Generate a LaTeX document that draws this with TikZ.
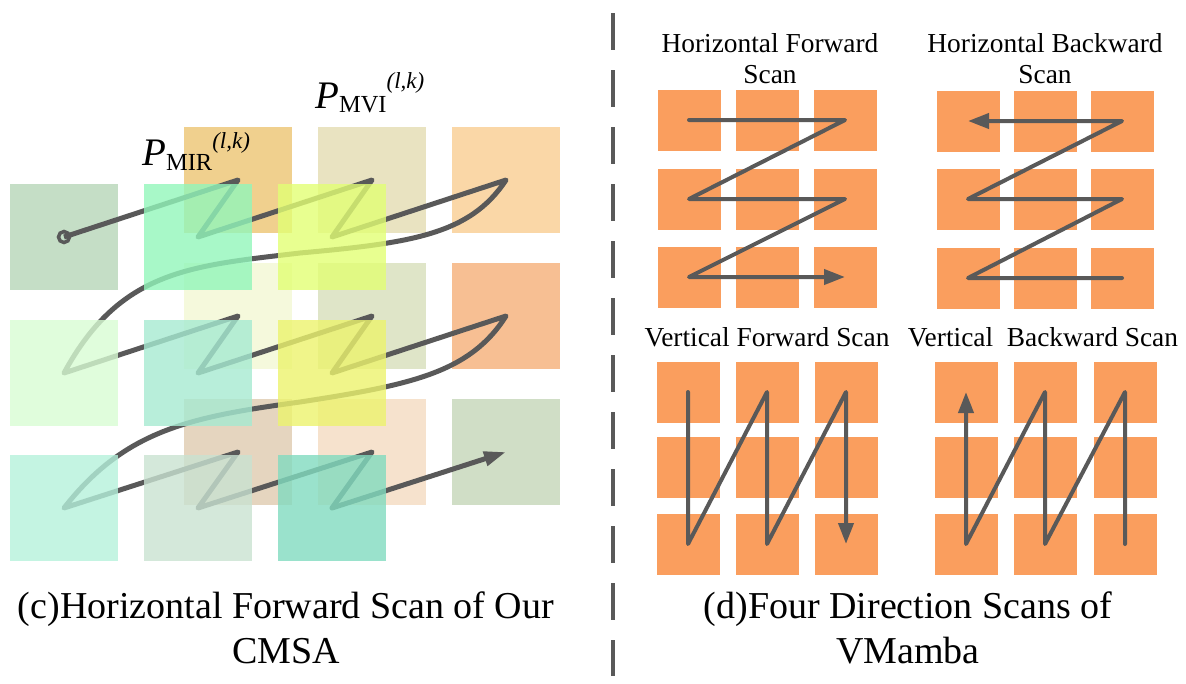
\documentclass[tikz,border=0pt]{standalone}
\usepackage{fontspec}
\setmainfont{Liberation Serif}
\usetikzlibrary{arrows.meta}

\definecolor{scanline}{RGB}{89,89,89}
\definecolor{cellorange}{RGB}{250,158,94}
% MVI cells (back)
\definecolor{mviA}{RGB}{240,208,142}
\definecolor{mviB}{RGB}{233,227,193}
\definecolor{mviC}{RGB}{250,215,167}
\definecolor{mviD}{RGB}{245,249,220}
\definecolor{mviE}{RGB}{223,229,200}
\definecolor{mviF}{RGB}{247,191,147}
\definecolor{mviG}{RGB}{229,213,191}
\definecolor{mviH}{RGB}{246,226,205}
\definecolor{mviI}{RGB}{208,222,198}
% MIR cells (front)
\definecolor{mirA}{RGB}{197,222,198}
\definecolor{mirB}{RGB}{146,246,186}
\definecolor{mirC}{RGB}{226,255,116}
\definecolor{mirD}{RGB}{216,252,211}
\definecolor{mirE}{RGB}{166,234,209}
\definecolor{mirF}{RGB}{236,243,109}
\definecolor{mirG}{RGB}{181,241,219}
\definecolor{mirH}{RGB}{201,226,209}
\definecolor{mirI}{RGB}{129,219,191}

\pgfdeclarelayer{back}
\pgfdeclarelayer{front}
\pgfsetlayers{back,main,front}

\begin{document}
\begin{tikzpicture}[x=1pt,y=-1pt,
    cell/.style={rectangle,inner sep=0pt,outer sep=0pt,minimum width=108pt,minimum height=106pt},
    smallcell/.style={rectangle,inner sep=0pt,outer sep=0pt,minimum width=63pt,minimum height=61pt,fill=cellorange},
    scanpath/.style={draw=scanline,line width=4pt,line join=round,line cap=round},
    scanarrow/.style={-{Triangle[length=21pt,width=15pt]}},
    subtitle/.style={font=\fontsize{27.4}{31}\selectfont,inner sep=0pt,align=center},
    caption/.style={font=\fontsize{38}{45}\selectfont,inner sep=0pt,align=center}]

      \useasboundingbox (0,0) rectangle (1186,683);

      % (c) left part
      \begin{pgfonlayer}{back}
      \begin{scope}[every node/.style={cell}]
        \node[fill=mviA] (mvi11) at (238,180) {};
        \node[fill=mviB] (mvi12) at (372,180) {};
        \node[fill=mviC] (mvi13) at (506,180) {};
        \node[fill=mviD] (mvi21) at (238,316) {};
        \node[fill=mviE] (mvi22) at (372,316) {};
        \node[fill=mviF] (mvi23) at (506,316) {};
        \node[fill=mviG] (mvi31) at (238,452) {};
        \node[fill=mviH] (mvi32) at (372,452) {};
        \node[fill=mviI] (mvi33) at (506,452) {};
        \node[fill=mirA] (mir11) at (64,237) {};
      \end{scope}
      \end{pgfonlayer}

      \begin{pgfonlayer}{front}
      \begin{scope}[every node/.style={cell,fill opacity=0.8}]
        \node[fill=mirB] (mir12) at (198,237) {};
        \node[fill=mirC] (mir13) at (332,237) {};
        \node[fill=mirD] (mir21) at (64,373) {};
        \node[fill=mirE] (mir22) at (198,373) {};
        \node[fill=mirF] (mir23) at (332,373) {};
        \node[fill=mirG] (mir31) at (64,508) {};
        \node[fill=mirH] (mir32) at (198,508) {};
        \node[fill=mirI] (mir33) at (332,508) {};
      \end{scope}
      \end{pgfonlayer}

      \draw[scanpath,line width=5pt,line cap=butt]
        (mir11.center) -- (mvi11.center) -- (mir12.center) -- (mvi12.center)
        -- (mir13.center) -- (mvi13.center)
        .. controls (470,235) and (410,243) .. (300,253)
        .. controls (190,266) and (120,270) .. (mir21.center)
        -- (mvi21.center) -- (mir22.center) -- (mvi22.center)
        -- (mir23.center) -- (mvi23.center)
        .. controls (470,373) and (410,385) .. (300,402)
        .. controls (190,417) and (125,430) .. (mir31.center)
        -- (mvi31.center) -- (mir32.center) -- (mvi32.center)
        -- (mir33.center);
      \draw[scanpath,line width=5pt,-{Triangle[length=22pt,width=14pt]}]
        (mir33.center) -- (mvi33.center);
      \draw[draw=scanline,line width=3.5pt] (mir11.center) circle (5.5pt);

      \node[inner sep=0pt,anchor=base west] (pmir) at (142,165)
        {{\fontsize{39}{39}\selectfont\itshape P}\raisebox{-5pt}{\fontsize{24.5}{24.5}\selectfont MIR}\raisebox{17pt}{\fontsize{23}{23}\selectfont\itshape (l,k)}};
      \node[inner sep=0pt,anchor=base west] (pmvi) at (315,108)
        {{\fontsize{39}{39}\selectfont\itshape P}\raisebox{-4pt}{\fontsize{24.5}{24.5}\selectfont MVI}\raisebox{20pt}{\fontsize{23}{23}\selectfont\itshape (l,k)}};

      % divider
      \draw[draw=scanline,line width=4pt,dash pattern=on 37pt off 20pt] (613,13) -- (613,676);

      % (d) right part
      \begin{scope}[every node/.style={smallcell}]
        \node (hf11) at (689,120) {};
        \node (hf12) at (767,120) {};
        \node (hf13) at (845,120) {};
        \node (hf21) at (689,199) {};
        \node (hf22) at (767,199) {};
        \node (hf23) at (845,199) {};
        \node (hf31) at (689,277) {};
        \node (hf32) at (767,277) {};
        \node (hf33) at (845,277) {};

        \node (hb11) at (968,121) {};
        \node (hb12) at (1045,121) {};
        \node (hb13) at (1122,121) {};
        \node (hb21) at (968,199) {};
        \node (hb22) at (1045,199) {};
        \node (hb23) at (1122,199) {};
        \node (hb31) at (968,278) {};
        \node (hb32) at (1045,278) {};
        \node (hb33) at (1122,278) {};

        \node (vf11) at (688,392) {};
        \node (vf12) at (767,392) {};
        \node (vf13) at (846,392) {};
        \node (vf21) at (688,467) {};
        \node (vf22) at (767,467) {};
        \node (vf23) at (846,467) {};
        \node (vf31) at (688,544) {};
        \node (vf32) at (767,544) {};
        \node (vf33) at (846,544) {};

        \node (vb11) at (966,392) {};
        \node (vb12) at (1045,392) {};
        \node (vb13) at (1125,392) {};
        \node (vb21) at (966,467) {};
        \node (vb22) at (1045,467) {};
        \node (vb23) at (1125,467) {};
        \node (vb31) at (966,544) {};
        \node (vb32) at (1045,544) {};
        \node (vb33) at (1125,544) {};
      \end{scope}

      \draw[scanpath,scanarrow] (hf11.center) -- (hf13.center) -- (hf21.center) -- (hf23.center)
        -- (hf31.center) -- (hf33.center);
      \draw[scanpath,scanarrow] (hb33.center) -- (hb31.center) -- (hb23.center) -- (hb21.center)
        -- (hb13.center) -- (hb11.center);
      \draw[scanpath,scanarrow] (vf11.center) -- (vf31.center) -- (vf12.center) -- (vf32.center)
        -- (vf13.center) -- (vf33.center);
      \draw[scanpath,scanarrow] (vb33.center) -- (vb13.center) -- (vb32.center) -- (vb12.center)
        -- (vb31.center) -- (vb11.center);

      \node[subtitle,anchor=north] (hftitle) at (770,33) {Horizontal Forward\\Scan};
      \node[subtitle,anchor=north] (hbtitle) at (1045,33) {Horizontal Backward\\Scan};
      \node[subtitle,anchor=base] (vftitle) at (767,346) {Vertical Forward Scan};
      \node[subtitle,anchor=base] (vbtitle) at (1043,346) {Vertical\ \ Backward Scan};

      \node[caption,anchor=north] (capc) at (286,592) {(c)Horizontal Forward Scan of Our\\CMSA};
      \node[caption,anchor=north] (capd) at (908,592) {(d)Four Direction Scans of\\VMamba};

    \end{tikzpicture}
\end{document}
